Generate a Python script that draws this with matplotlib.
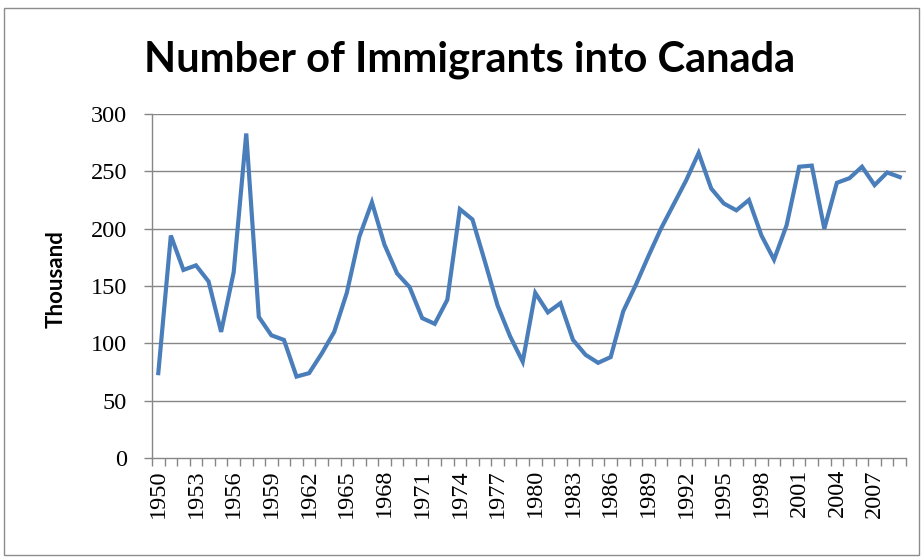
import numpy as np
import matplotlib
matplotlib.use("Agg")
import matplotlib.pyplot as plt
from matplotlib.patches import Rectangle
from matplotlib.ticker import FixedLocator, NullFormatter

# immigrants per year, thousands
years = list(range(1950, 2010))
immigrants = [
    74, 194, 164, 168, 154, 110, 162, 283, 123, 107,   # 1950s
    103, 71, 74, 91, 110, 144, 193, 223, 186, 161,     # 1960s
    149, 122, 117, 138, 217, 208, 171, 133, 106, 84,   # 1970s
    144, 127, 135, 103, 90, 83, 88, 128, 151, 176,     # 1980s
    200, 221, 242, 266, 235, 222, 216, 225, 194, 173,  # 1990s
    203, 254, 255, 200, 240, 244, 254, 238, 249, 245,  # 2000s
]
yticks = [0, 50, 100, 150, 200, 250, 300]
label_every = 3

line_col = '#4a7ebb'
grid_col = '#868686'

fig = plt.figure(figsize=(9.23, 5.6), dpi=100)
# chart area border
fig.patches.append(Rectangle((4/923, 1 - 555/560), 915/923, 547/560,
                             transform=fig.transFigure, fill=False,
                             edgecolor='#8c8c8c', linewidth=1.0))

ax = fig.add_axes([152/923, 1 - 458/560, (906 - 152)/923, (458 - 114)/560])

x = np.arange(len(years))
ax.plot(x, immigrants, color=line_col, linewidth=3.0, solid_joinstyle='miter')

ax.set_xlim(-0.5, len(years) - 0.5)
ax.set_ylim(0, 300)
ax.set_yticks(yticks)
ax.set_yticklabels([str(v) for v in yticks], fontfamily='Liberation Serif', fontsize=17.5)
for v in yticks[1:]:
    ax.axhline(v, color=grid_col, linewidth=1.0, zorder=0)

# labels every 3 years at category centres, tick marks at category boundaries
lab_pos = x[::label_every]
ax.set_xticks(lab_pos)
ax.set_xticklabels([str(years[i]) for i in lab_pos], rotation=90,
                   fontfamily='Liberation Serif', fontsize=17.5)
ax.xaxis.set_minor_locator(FixedLocator(np.arange(len(years) + 1) - 0.5))
ax.xaxis.set_minor_formatter(NullFormatter())
ax.tick_params(axis='x', which='major', length=0, pad=8)
ax.tick_params(axis='x', which='minor', length=6, width=1, color=grid_col, direction='out')
ax.tick_params(axis='y', length=6, width=1, color=grid_col, pad=12, direction='out')

for s in ['top', 'right']:
    ax.spines[s].set_visible(False)
for s in ['left', 'bottom']:
    ax.spines[s].set_color(grid_col)
    ax.spines[s].set_linewidth(1.0)

ax.set_ylabel('Thousand', fontfamily='Lato', fontweight='bold', fontsize=16)
ax.yaxis.set_label_coords(-0.113, 0.52)
fig.text(470/923, 1 - 60/560, 'Number of Immigrants into Canada', ha='center', va='center',
         fontfamily='Lato', fontweight='bold', fontsize=30)

fig.savefig('out.png', dpi=100)
